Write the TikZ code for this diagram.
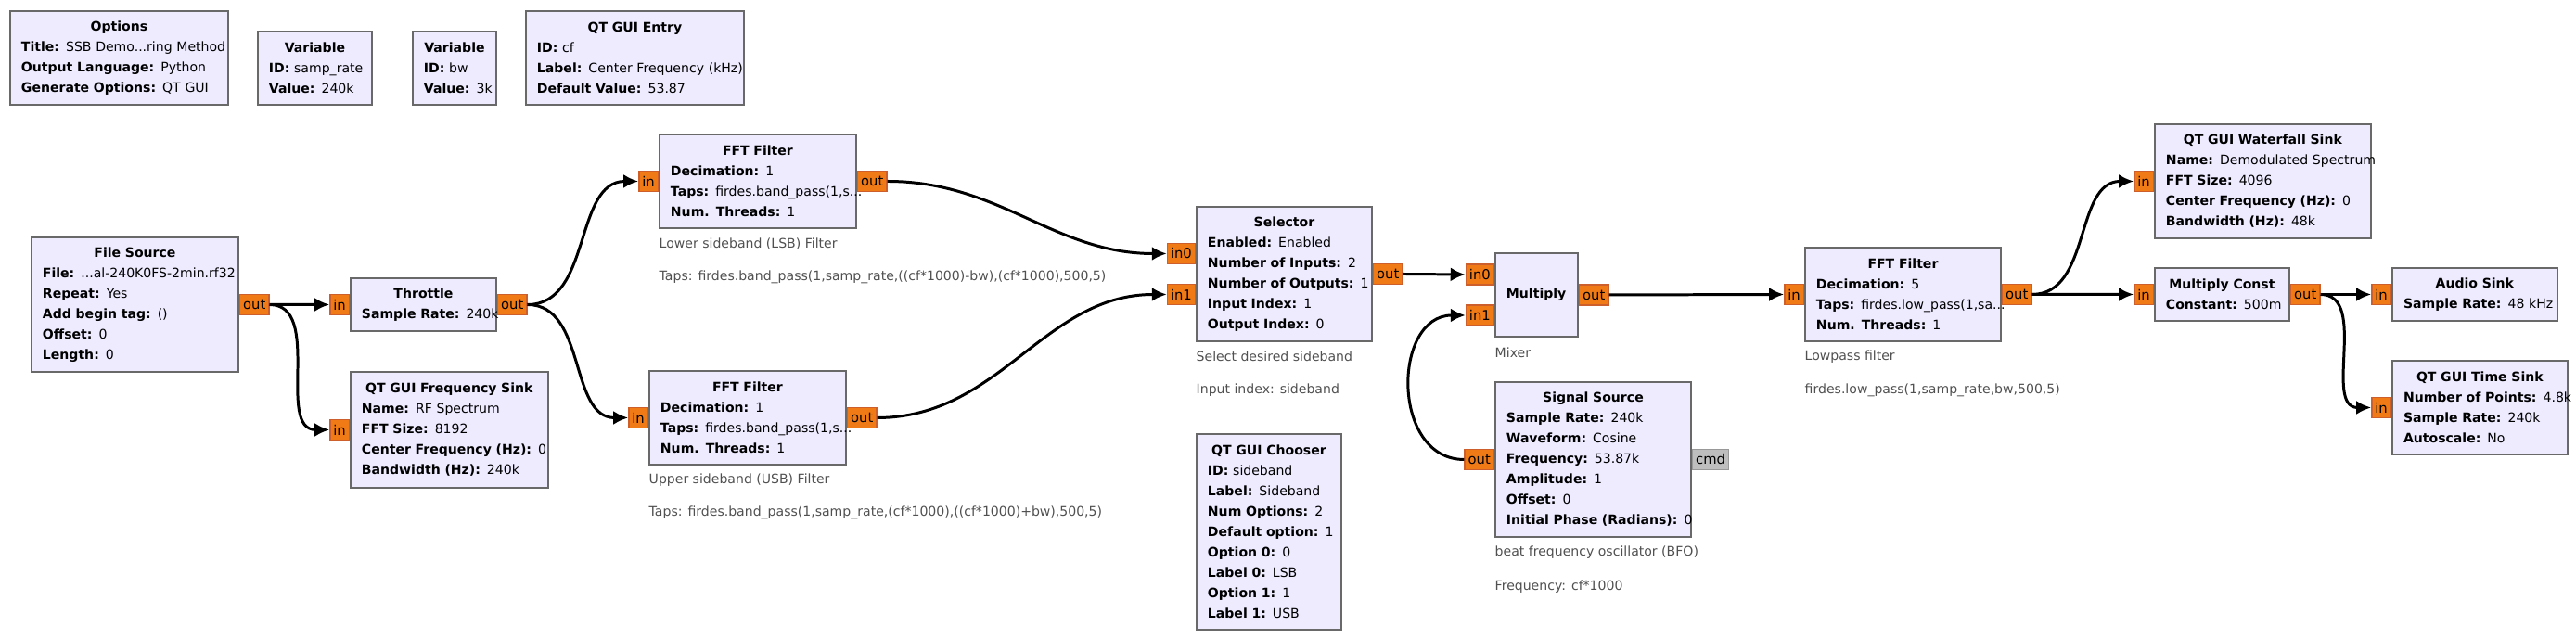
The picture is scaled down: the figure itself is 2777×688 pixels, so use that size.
\documentclass[tikz,border=0pt]{standalone}
\usepackage{fontspec}
\setmainfont{DejaVu Sans}
\usepackage{tikz}
\usetikzlibrary{arrows.meta,positioning,calc}
\setlength\parindent{0pt}
\definecolor{blkfill}{RGB}{238,235,255}
\definecolor{blkdraw}{RGB}{105,105,105}
\definecolor{portfill}{RGB}{240,122,22}
\definecolor{portdraw}{RGB}{205,95,45}
\definecolor{cmdfill}{RGB}{190,190,190}
\definecolor{notegray}{RGB}{80,80,80}
\newcommand\kv[2]{\par\raggedright\mbox{\textbf{#1:} #2}}
\tikzset{
    blk/.style={draw=blkdraw, fill=blkfill, line width=0.55pt, anchor=north west,
                inner xsep=1.2mm, inner ysep=0pt, font=\fontsize{4}{6.26}\selectfont},
    port/.style={draw=portdraw, fill=portfill, line width=0.4pt, minimum height=2.2mm,
                 inner xsep=0.35mm, inner ysep=0pt, font=\fontsize{4.2}{5}\selectfont},
    cmd/.style={port, draw=cmdfill!80!black, fill=cmdfill},
    note/.style={anchor=west, inner sep=0pt, text=notegray, font=\fontsize{4}{5}\selectfont},
    wire/.style={line width=0.85pt, -{Latex[length=1.6mm,width=1.5mm]}},
}

\begin{document}
\begin{tikzpicture}[x=0.1mm, y=-0.1mm]
    \useasboundingbox (0,0) rectangle (2777,688);

    % Variables and options
    \node[blk, minimum width=23.5mm, text width=21.1mm, minimum height=10.1mm] (opt) at (10,11)
        {\centering\textbf{Options}\kv{Title}{SSB Demo...ring Method}\kv{Output Language}{Python}\kv{Generate Options}{QT GUI}};
    \node[blk, minimum width=12.3mm, text width=9.9mm, minimum height=7.9mm] (vsr) at (277,33)
        {\centering\textbf{Variable}\kv{ID}{samp\_rate}\kv{Value}{240k}};
    \node[blk, minimum width=9mm, text width=6.6mm, minimum height=7.9mm] (vbw) at (444,33)
        {\centering\textbf{Variable}\kv{ID}{bw}\kv{Value}{3k}};
    \node[blk, minimum width=23.5mm, text width=21.1mm, minimum height=10.1mm] (entry) at (566,11)
        {\centering\textbf{QT GUI Entry}\kv{ID}{cf}\kv{Label}{Center Frequency (kHz)}\kv{Default Value}{53.87}};

    % Source and throttle
    \node[blk, minimum width=22.3mm, text width=19.9mm, minimum height=14.5mm] (fsrc) at (33,255)
        {\centering\textbf{File Source}\kv{File}{...al-240K0FS-2min.rf32}\kv{Repeat}{Yes}\kv{Add begin tag}{()}\kv{Offset}{0}\kv{Length}{0}};
    \node[port, anchor=west] (fsrc_out) at (fsrc.east) {out};

    \node[blk, minimum width=15.7mm, text width=13.3mm, minimum height=5.7mm] (thr) at (377,299)
        {\centering\textbf{Throttle}\kv{Sample Rate}{240k}};
    \node[port, anchor=east] (thr_in) at (thr.west) {in};
    \node[port, anchor=west] (thr_out) at (thr.east) {out};

    \node[blk, minimum width=21.3mm, text width=18.9mm, minimum height=12.5mm] (fsink) at (377,400)
        {\centering\textbf{QT GUI Frequency Sink}\kv{Name}{RF Spectrum}\kv{FFT Size}{8192}\kv{Center Frequency (Hz)}{0}\kv{Bandwidth (Hz)}{240k}};
    \node[port, anchor=east] (fsink_in) at (fsink.west) {in};

    % Sideband filters
    \node[blk, minimum width=21.2mm, text width=18.8mm, minimum height=10.1mm] (lsb) at (710,144)
        {\centering\textbf{FFT Filter}\kv{Decimation}{1}\kv{Taps}{firdes.band\_pass(1,s...}\kv{Num. Threads}{1}};
    \node[port, anchor=east] (lsb_in) at (lsb.west) {in};
    \node[port, anchor=west] (lsb_out) at (lsb.east) {out};
    \node[note] (lsb_c1) at (710,263) {Lower sideband (LSB) Filter};
    \node[note] (lsb_c2) at (710,299) {Taps: firdes.band\_pass(1,samp\_rate,((cf*1000)-bw),(cf*1000),500,5)};

    \node[blk, minimum width=21.2mm, text width=18.8mm, minimum height=10.1mm] (usb) at (699,399)
        {\centering\textbf{FFT Filter}\kv{Decimation}{1}\kv{Taps}{firdes.band\_pass(1,s...}\kv{Num. Threads}{1}};
    \node[port, anchor=east] (usb_in) at (usb.west) {in};
    \node[port, anchor=west] (usb_out) at (usb.east) {out};
    \node[note] (usb_c1) at (699,518) {Upper sideband (USB) Filter};
    \node[note] (usb_c2) at (699,553) {Taps: firdes.band\_pass(1,samp\_rate,(cf*1000),((cf*1000)+bw),500,5)};

    % Selector and chooser
    \node[blk, minimum width=18.9mm, text width=16.5mm, minimum height=14.5mm] (sel) at (1289,222)
        {\centering\textbf{Selector}\kv{Enabled}{Enabled}\kv{Number of Inputs}{2}\kv{Number of Outputs}{1}\kv{Input Index}{1}\kv{Output Index}{0}};
    \node[port, anchor=east] (sel_in0) at ($(sel.west)+(0,-22)$) {in0};
    \node[port, anchor=east] (sel_in1) at ($(sel.west)+(0,22)$) {in1};
    \node[port, anchor=west] (sel_out) at (sel.east) {out};
    \node[note] (sel_c1) at (1289,384) {Select desired sideband};
    \node[note] (sel_c2) at (1289,421) {Input index: sideband};

    \node[blk, minimum width=15.6mm, text width=13.2mm, minimum height=21.1mm] (chooser) at (1289,467)
        {\centering\textbf{QT GUI Chooser}\kv{ID}{sideband}\kv{Label}{Sideband}\kv{Num Options}{2}\kv{Default option}{1}\kv{Option 0}{0}\kv{Label 0}{LSB}\kv{Option 1}{1}\kv{Label 1}{USB}};

    % Mixer and BFO
    \node[blk, minimum width=8.9mm, text width=6.5mm, minimum height=9mm] (mul) at (1611,272)
        {\centering\textbf{Multiply}};
    \node[port, anchor=east] (mul_in0) at ($(mul.west)+(0,-22)$) {in0};
    \node[port, anchor=east] (mul_in1) at ($(mul.west)+(0,22)$) {in1};
    \node[port, anchor=west] (mul_out) at (mul.east) {out};
    \node[note] (mul_c1) at (1611,380) {Mixer};

    \node[blk, minimum width=21.1mm, text width=18.7mm, minimum height=16.7mm] (sig) at (1611,411)
        {\centering\textbf{Signal Source}\kv{Sample Rate}{240k}\kv{Waveform}{Cosine}\kv{Frequency}{53.87k}\kv{Amplitude}{1}\kv{Offset}{0}\kv{Initial Phase (Radians)}{0}};
    \node[port, anchor=east] (sig_out) at (sig.west) {out};
    \node[cmd, anchor=west] (sig_cmd) at (sig.east) {cmd};
    \node[note] (sig_c1) at (1611,596) {beat frequency oscillator (BFO)};
    \node[note] (sig_c2) at (1611,633) {Frequency: cf*1000};

    % Lowpass and sinks
    \node[blk, minimum width=21.1mm, text width=18.7mm, minimum height=10.1mm] (lpf) at (1945,266)
        {\centering\textbf{FFT Filter}\kv{Decimation}{5}\kv{Taps}{firdes.low\_pass(1,sa...}\kv{Num. Threads}{1}};
    \node[port, anchor=east] (lpf_in) at (lpf.west) {in};
    \node[port, anchor=west] (lpf_out) at (lpf.east) {out};
    \node[note] (lpf_c1) at (1945,385) {Lowpass filter};
    \node[note] (lpf_c2) at (1945,421) {firdes.low\_pass(1,samp\_rate,bw,500,5)};

    \node[blk, minimum width=23.3mm, text width=20.9mm, minimum height=12.3mm] (wf) at (2322,133)
        {\centering\textbf{QT GUI Waterfall Sink}\kv{Name}{Demodulated Spectrum}\kv{FFT Size}{4096}\kv{Center Frequency (Hz)}{0}\kv{Bandwidth (Hz)}{48k}};
    \node[port, anchor=east] (wf_in) at (wf.west) {in};

    \node[blk, minimum width=14.5mm, text width=12.1mm, minimum height=5.7mm] (mc) at (2322,288)
        {\centering\textbf{Multiply Const}\kv{Constant}{500m}};
    \node[port, anchor=east] (mc_in) at (mc.west) {in};
    \node[port, anchor=west] (mc_out) at (mc.east) {out};

    \node[blk, minimum width=17.8mm, text width=15.4mm, minimum height=5.7mm] (aud) at (2578,288)
        {\centering\textbf{Audio Sink}\kv{Sample Rate}{48 kHz}};
    \node[port, anchor=east] (aud_in) at (aud.west) {in};

    \node[blk, minimum width=18.9mm, text width=16.5mm, minimum height=10.1mm] (ts) at (2578,388)
        {\centering\textbf{QT GUI Time Sink}\kv{Number of Points}{4.8k}\kv{Sample Rate}{240k}\kv{Autoscale}{No}};
    \node[port, anchor=east] (ts_in) at (ts.west) {in};

    % Connections
    \draw[wire] (fsrc_out.east) to[out=0,in=180] (thr_in.west);
    \draw[wire] (fsrc_out.east) to[out=0,in=180] (fsink_in.west);
    \draw[wire] (thr_out.east) to[out=0,in=180] (lsb_in.west);
    \draw[wire] (thr_out.east) to[out=0,in=180] (usb_in.west);
    \draw[wire] (lsb_out.east) to[out=0,in=180] (sel_in0.west);
    \draw[wire] (usb_out.east) to[out=0,in=180] (sel_in1.west);
    \draw[wire] (sel_out.east) -- (mul_in0.west);
    \draw[wire] (sig_out.west) to[out=180,in=180,looseness=1.3] (mul_in1.west);
    \draw[wire] (mul_out.east) -- (lpf_in.west);
    \draw[wire] (lpf_out.east) to[out=0,in=180] (wf_in.west);
    \draw[wire] (lpf_out.east) -- (mc_in.west);
    \draw[wire] (mc_out.east) -- (aud_in.west);
    \draw[wire] (mc_out.east) to[out=0,in=180] (ts_in.west);
\end{tikzpicture}
\end{document}
